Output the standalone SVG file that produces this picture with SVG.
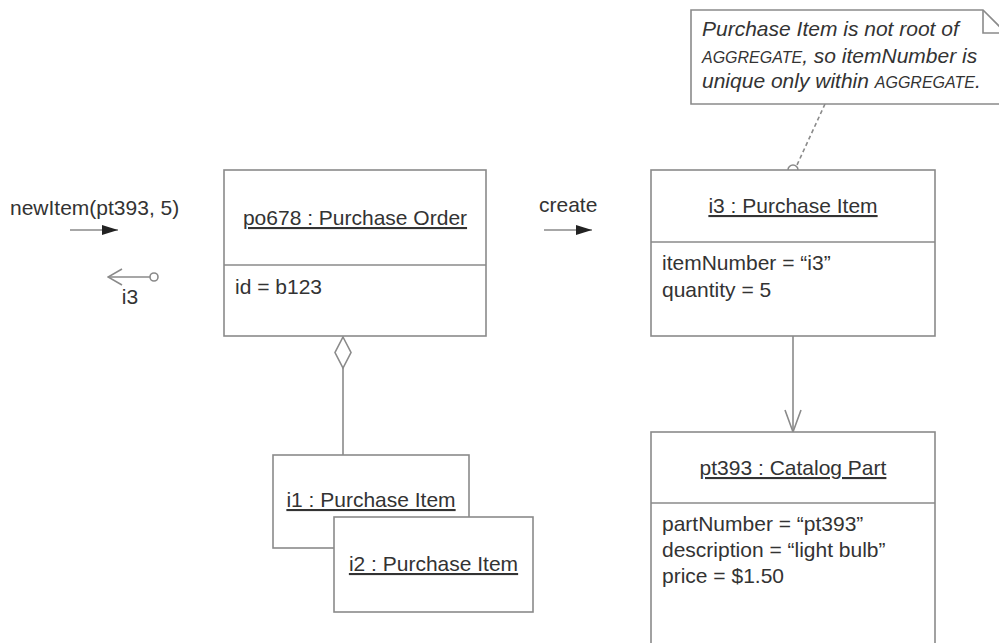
<svg xmlns="http://www.w3.org/2000/svg" width="999" height="643" viewBox="0 0 999 643">
<style>
  .box { fill: #fff; stroke: #8a8a8a; stroke-width: 1.6; }
  .ln { fill: none; stroke: #8a8a8a; stroke-width: 1.6; }
  .t { font-family: "Liberation Sans", Arial, sans-serif; font-size: 21px; fill: #333; }
  .title { text-anchor: middle; text-decoration: underline; }
  .note { font-style: italic; }
  .sc { font-size: 16px; }
</style>
<defs>
  <marker id="filled" markerWidth="16" markerHeight="12" refX="16" refY="6" orient="auto" markerUnits="userSpaceOnUse">
    <path d="M0,1 L16,6 L0,11 Z" fill="#222"/>
  </marker>
  <marker id="open" markerWidth="16" markerHeight="18" refX="1" refY="9" orient="auto" markerUnits="userSpaceOnUse">
    <path d="M15,1 L1,9 L15,17" fill="none" stroke="#8a8a8a" stroke-width="1.6"/>
  </marker>
</defs>

<g id="connectors">
  <line class="ln" x1="343" y1="368" x2="343" y2="455"/>
  <path class="box" d="M343,337 L351,352.5 L343,368 L335,352.5 Z"/>
  <line class="ln" x1="793" y1="336" x2="793" y2="431"/>
  <path class="ln" d="M785,410 L793,432 L801,410"/>
  <line class="ln" x1="825" y1="104" x2="797" y2="165" stroke-dasharray="4,3"/>
  <circle cx="793" cy="170" r="5" fill="#fff" stroke="#8a8a8a" stroke-width="1.6"/>
</g>

<g id="msg-newItem">
  <text class="t" x="10" y="215">newItem(pt393, 5)</text>
  <line class="ln" x1="70" y1="230" x2="118" y2="230" marker-end="url(#filled)"/>
</g>

<g id="msg-return">
  <line class="ln" x1="108" y1="277" x2="150" y2="277" marker-start="url(#open)"/>
  <circle cx="154" cy="277" r="4" fill="#fff" stroke="#8a8a8a" stroke-width="1.6"/>
  <text class="t" x="130" y="304" text-anchor="middle">i3</text>
</g>

<g id="msg-create">
  <text class="t" x="539" y="212">create</text>
  <line class="ln" x1="544" y1="230" x2="592" y2="230" marker-end="url(#filled)"/>
</g>

<g id="po678">
  <rect class="box" x="224" y="170" width="262" height="166"/>
  <line class="ln" x1="224" y1="265" x2="486" y2="265"/>
  <text class="t title" x="355" y="225">po678 : Purchase Order</text>
  <text class="t" x="235" y="294">id = b123</text>
</g>

<g id="i1">
  <rect class="box" x="273" y="455" width="196" height="93"/>
  <text class="t title" x="371" y="507">i1 : Purchase Item</text>
</g>

<g id="i2">
  <rect class="box" x="334" y="517" width="199" height="95"/>
  <text class="t title" x="433.5" y="571">i2 : Purchase Item</text>
</g>

<g id="i3">
  <rect class="box" x="651" y="170" width="284" height="166"/>
  <line class="ln" x1="651" y1="242" x2="935" y2="242"/>
  <text class="t title" x="793" y="213">i3 : Purchase Item</text>
  <text class="t" x="662" y="270">itemNumber = “i3”</text>
  <text class="t" x="662" y="297">quantity = 5</text>
</g>

<g id="pt393">
  <rect class="box" x="651" y="432" width="284" height="230"/>
  <line class="ln" x1="651" y1="503" x2="935" y2="503"/>
  <text class="t title" x="793" y="475">pt393 : Catalog Part</text>
  <text class="t" x="662" y="531">partNumber = “pt393”</text>
  <text class="t" x="662" y="557">description = “light bulb”</text>
  <text class="t" x="662" y="583">price = $1.50</text>
</g>

<g id="note">
  <path class="box" d="M691,10 L983,10 L1006,33 L1006,104 L691,104 Z"/>
  <path class="ln" d="M983,10 L983,33 L1006,33"/>
  <text class="t note" x="702" y="36">Purchase Item is not root of</text>
  <text class="t note" x="702" y="63"><tspan class="sc">AGGREGATE</tspan>, so itemNumber is</text>
  <text class="t note" x="702" y="88">unique only within <tspan class="sc">AGGREGATE</tspan>.</text>
</g>
</svg>
